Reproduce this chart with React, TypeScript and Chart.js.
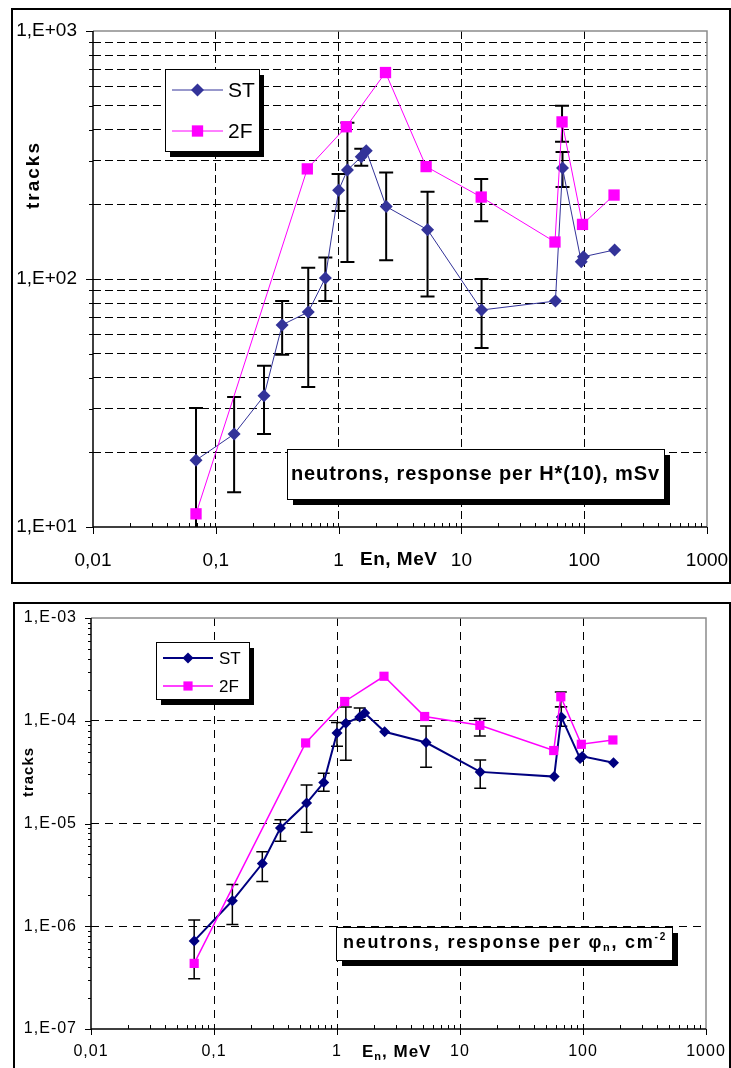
import React, { useEffect, useRef } from "react";
import { Chart, registerables } from "chart.js";

Chart.register(...registerables);

// ---------------- axes ----------------
const energyTicks = [0.01, 0.1, 1, 10, 100, 1000];
const energyTickLabels = ["0,01", "0,1", "1", "10", "100", "1000"];
const doseTicks = [10, 100, 1000];
const doseTickLabels = ["1,E+01", "1,E+02", "1,E+03"];
const fluenceTicks = [1e-7, 1e-6, 1e-5, 1e-4, 1e-3];
const fluenceTickLabels = ["1,E-07", "1,E-06", "1,E-05", "1,E-04", "1,E-03"];

const seriesNames = ["ST", "2F"];

// ---------------- energies (MeV) ----------------
const stEnergy = [0.069, 0.141, 0.247, 0.347, 0.566, 0.78, 1.0, 1.18, 1.53, 1.68, 2.44, 5.3, 14.6, 58.3, 66.6, 94.6, 98.6, 177];
const twoFEnergy = [0.069, 0.556, 1.155, 2.41, 5.16, 14.5, 57.8, 66.0, 96.9, 175];

// ---------------- response per H*(10) ----------------
const stDose = [18.6, 23.7, 33.8, 65.3, 73.6, 101, 228, 275, 311, 329, 196, 158, 75, 81.5, 280, 117.5, 123, 131];
const stDoseLow = [9, 13.8, 23.7, 49.5, 36.7, 81.5, 188, 117, 286, null, 119, 85, 52.7, null, 235, null, null, null];
const stDoseHigh = [30.2, 33.4, 44.7, 81.5, 111, 122, 265, 427, 335, null, 269, 225, 100, null, 325, null, null, null];
const twoFDose = [11.3, 278, 411, 680, 284, 214, 141, 430, 166, 218];
const twoFDoseLow = [null, null, null, null, null, 171, null, 358, null, null];
const twoFDoseHigh = [null, null, null, null, null, 253, null, 500, null, null];

// ---------------- response per fluence ----------------
const stFluence = [7.2e-7, 1.77e-6, 4.08e-6, 9.06e-6, 1.58e-5, 2.5e-5, 7.6e-5, 9.46e-5, 1.09e-4, 1.19e-4, 7.8e-5, 6.14e-5, 3.18e-5, 2.86e-5, 1.09e-4, 4.3e-5, 4.5e-5, 3.9e-5];
const stFluenceLow = [3.08e-7, 1.04e-6, 2.73e-6, 6.73e-6, 8.2e-6, 2.06e-5, 5.65e-5, 4.13e-5, 1.02e-4, null, null, 3.53e-5, 2.2e-5, null, 8.85e-5, null, null, null];
const stFluenceHigh = [1.15e-6, 2.55e-6, 5.3e-6, 1.09e-5, 2.37e-5, 3.08e-5, 9.6e-5, 1.36e-4, 1.33e-4, null, null, 8.9e-5, 4.16e-5, null, 1.37e-4, null, null, null];
const twoFFluence = [4.35e-7, 6.08e-5, 1.54e-4, 2.71e-4, 1.1e-4, 9.03e-5, 5.13e-5, 1.71e-4, 5.9e-5, 6.5e-5];
const twoFFluenceLow = [null, null, null, null, null, 7.1e-5, null, 1.36e-4, null, null];
const twoFFluenceHigh = [null, null, null, null, null, 1.05e-4, null, 1.9e-4, null, null];

const FAM = "'Liberation Sans', Arial, sans-serif";

const topSpec = {
  frame: { left: 11, top: 8, width: 720, height: 576 },
  area: { left: 80, top: 21, right: 694, bottom: 517 },
  yMin: 10, yMax: 1000, yMajors: doseTicks, yLabels: doseTickLabels, yMinorGrid: true,
  st: { x: stEnergy, y: stDose }, f2: { x: twoFEnergy, y: twoFDose },
  errors: [
    { x: stEnergy, lo: stDoseLow, hi: stDoseHigh },
    { x: twoFEnergy, lo: twoFDoseLow, hi: twoFDoseHigh },
  ],
  stColor: "#333399", f2Color: "#ff00ff", stWidth: 1, f2Width: 1, diamondR: 6.5, squareR: 8,
  tickFont: 19, tickSpacing: 0, xPad: 22, yPad: 16, dash: [8, 4],
  majorTick: 7, xMinorTick: 4, yMinorTick: 4, axisWidth: 1.5, errWidth: 2, cap: 7,
  legend: { x: 152, y: 59, w: 94, h: 82, sx: 5, sy: 6, lx0: 159, lx1: 210, rows: [80, 121], tx: 215, font: `21px ${FAM}` },
  annotation: { x: 274, y: 439, w: 377, h: 50, shadow: 6, tx: 278, tw: 369, ty: 464,
    parts: [{ text: "neutrons, response per H*(10), mSv", font: `bold 20px ${FAM}`, dy: 0 }] },
  yTitle: { text: "tracks", x: 21, y: 165, font: `bold 19px ${FAM}`, spacing: 2 },
  xTitle: { x: 347, y: 550, spacing: 0.5, parts: [{ text: "En, MeV", font: `bold 19px ${FAM}`, dy: 0 }] },
};

const bottomSpec = {
  frame: { left: 13, top: 602, width: 718, height: 470 },
  area: { left: 76, top: 14, right: 691, bottom: 425 },
  yMin: 1e-7, yMax: 1e-3, yMajors: fluenceTicks, yLabels: fluenceTickLabels, yMinorGrid: false,
  st: { x: stEnergy, y: stFluence }, f2: { x: twoFEnergy, y: twoFFluence },
  errors: [
    { x: stEnergy, lo: stFluenceLow, hi: stFluenceHigh },
    { x: twoFEnergy, lo: twoFFluenceLow, hi: twoFFluenceHigh },
  ],
  stColor: "#000080", f2Color: "#ff00ff", stWidth: 2, f2Width: 1.5, diamondR: 5.5, squareR: 6.5,
  tickFont: 16, tickSpacing: 1, xPad: 13, yPad: 14, dash: [8, 6],
  majorTick: 6, xMinorTick: 4, yMinorTick: 3, axisWidth: 1.5, errWidth: 1.5, cap: 6,
  legend: { x: 141, y: 38, w: 93, h: 57, sx: 5, sy: 6, lx0: 148, lx1: 198, rows: [54, 82], tx: 204, font: `17px ${FAM}` },
  annotation: { x: 321, y: 323, w: 336, h: 33, shadow: 6, tx: 328, tw: 324, ty: 339,
    parts: [
      { text: "neutrons, response per ", font: `bold 18px ${FAM}`, dy: 0 },
      { text: "φ", font: `bold 18px ${FAM}`, dy: 0 },
      { text: "n", font: `bold 11px ${FAM}`, dy: 5 },
      { text: ", cm", font: `bold 18px ${FAM}`, dy: 0 },
      { text: "-2", font: `bold 10px ${FAM}`, dy: -6 },
    ] },
  yTitle: { text: "tracks", x: 14, y: 168, font: `bold 15px ${FAM}`, spacing: 1 },
  xTitle: { x: 347, y: 448, spacing: 1, parts: [
    { text: "E", font: `bold 17px ${FAM}`, dy: 0 },
    { text: "n", font: `bold 11px ${FAM}`, dy: 5 },
    { text: ", MeV", font: `bold 17px ${FAM}`, dy: 0 },
  ] },
};

function logTicks(majors: number[]) {
  const out: any[] = [];
  for (let i = 0; i < majors.length; i++) {
    out.push({ value: majors[i], major: true });
    if (i < majors.length - 1) {
      for (let d = 2; d <= 9; d++) out.push({ value: majors[i] * d, major: false });
    }
  }
  return out;
}

function labelFor(value: number, majors: number[], labels: string[]) {
  const k = majors.findIndex((m) => Math.abs(Math.log10(m) - Math.log10(value)) < 1e-6);
  return k >= 0 ? labels[k] : "";
}

function isEdge(value: number, min: number, max: number) {
  return Math.abs(Math.log10(value) - Math.log10(min)) < 1e-6 || Math.abs(Math.log10(value) - Math.log10(max)) < 1e-6;
}

function setSpacing(ctx: any, px: number) {
  ctx.letterSpacing = px + "px";
}

function partsWidth(ctx: any, parts: any[], spacing: number) {
  let w = 0;
  for (const p of parts) {
    ctx.font = p.font;
    setSpacing(ctx, spacing);
    w += ctx.measureText(p.text).width;
  }
  return w;
}

function drawParts(ctx: any, parts: any[], x: number, y: number, spacing: number) {
  let cx = x;
  ctx.textAlign = "left";
  ctx.textBaseline = "middle";
  for (const p of parts) {
    ctx.font = p.font;
    setSpacing(ctx, spacing);
    ctx.fillText(p.text, cx, y + (p.dy || 0));
    cx += ctx.measureText(p.text).width;
  }
}

function drawMarker(ctx: any, style: string, x: number, y: number, r: number, color: string) {
  ctx.fillStyle = color;
  ctx.beginPath();
  if (style === "rectRot") {
    ctx.moveTo(x - r, y);
    ctx.lineTo(x, y - r);
    ctx.lineTo(x + r, y);
    ctx.lineTo(x, y + r);
    ctx.closePath();
  } else {
    const h = r * Math.SQRT1_2;
    ctx.rect(x - h, y - h, 2 * h, 2 * h);
  }
  ctx.fill();
}

function makeDecor(spec: any) {
  return {
    id: "decor",
    beforeDraw(chart: any) {
      const ctx = chart.ctx;
      ctx.save();
      ctx.fillStyle = "#fff";
      ctx.fillRect(0, 0, chart.width, chart.height);
      ctx.restore();
      setSpacing(ctx, spec.tickSpacing);
    },
    beforeDatasetsDraw(chart: any) {
      const ctx = chart.ctx;
      const a = chart.chartArea;
      const xs = chart.scales.x;
      const ys = chart.scales.y;
      ctx.save();
      setSpacing(ctx, 0);
      ctx.setLineDash([]);
      ctx.strokeStyle = "#8c8c8c";
      ctx.lineWidth = 1.5;
      ctx.beginPath();
      ctx.moveTo(a.left, a.top);
      ctx.lineTo(a.right, a.top);
      ctx.lineTo(a.right, a.bottom);
      ctx.stroke();

      ctx.strokeStyle = "#000";
      ctx.lineWidth = spec.axisWidth;
      ctx.beginPath();
      ctx.moveTo(a.left, a.top);
      ctx.lineTo(a.left, a.bottom);
      ctx.lineTo(a.right, a.bottom);
      ctx.stroke();

      ctx.lineWidth = 1;
      ctx.beginPath();
      for (const t of xs.ticks) {
        const px = Math.round(xs.getPixelForValue(t.value)) + 0.5;
        if (t.major) {
          ctx.moveTo(px, a.bottom);
          ctx.lineTo(px, a.bottom + spec.majorTick);
        } else {
          ctx.moveTo(px, a.bottom);
          ctx.lineTo(px, a.bottom - spec.xMinorTick);
        }
      }
      for (const t of ys.ticks) {
        const py = Math.round(ys.getPixelForValue(t.value)) + 0.5;
        ctx.moveTo(a.left - (t.major ? spec.majorTick : spec.yMinorTick), py);
        ctx.lineTo(a.left, py);
      }
      ctx.stroke();

      ctx.beginPath();
      ctx.rect(a.left, a.top, a.right - a.left, a.bottom - a.top);
      ctx.clip();
      ctx.strokeStyle = "#000";
      ctx.lineWidth = spec.errWidth;
      ctx.beginPath();
      for (const e of spec.errors) {
        e.x.forEach((xv: number, i: number) => {
          const lo = e.lo[i];
          const hi = e.hi[i];
          if (lo == null || hi == null) return;
          const px = xs.getPixelForValue(xv);
          const pl = ys.getPixelForValue(lo);
          const ph = ys.getPixelForValue(hi);
          ctx.moveTo(px, pl);
          ctx.lineTo(px, ph);
          ctx.moveTo(px - spec.cap, pl);
          ctx.lineTo(px + spec.cap, pl);
          ctx.moveTo(px - spec.cap, ph);
          ctx.lineTo(px + spec.cap, ph);
        });
      }
      ctx.stroke();
      ctx.restore();
    },
    afterDraw(chart: any) {
      const ctx = chart.ctx;
      ctx.save();
      ctx.setLineDash([]);

      // legend
      const L = spec.legend;
      ctx.fillStyle = "#000";
      ctx.fillRect(L.x + L.sx, L.y + L.sy, L.w, L.h);
      ctx.fillStyle = "#fff";
      ctx.fillRect(L.x, L.y, L.w, L.h);
      ctx.strokeStyle = "#000";
      ctx.lineWidth = 1;
      ctx.strokeRect(L.x + 0.5, L.y + 0.5, L.w, L.h);
      const entries = [
        { name: seriesNames[0], color: spec.stColor, width: spec.stWidth, style: "rectRot", r: spec.diamondR },
        { name: seriesNames[1], color: spec.f2Color, width: spec.f2Width, style: "rect", r: spec.squareR },
      ];
      entries.forEach((en, i) => {
        const yy = L.rows[i];
        ctx.strokeStyle = en.color;
        ctx.lineWidth = en.width;
        ctx.beginPath();
        ctx.moveTo(L.lx0, yy);
        ctx.lineTo(L.lx1, yy);
        ctx.stroke();
        drawMarker(ctx, en.style, (L.lx0 + L.lx1) / 2, yy, en.r, en.color);
        ctx.fillStyle = "#000";
        ctx.font = L.font;
        setSpacing(ctx, 0);
        ctx.textAlign = "left";
        ctx.textBaseline = "middle";
        ctx.fillText(en.name, L.tx, yy + 1);
      });

      // annotation box
      const A = spec.annotation;
      ctx.fillStyle = "#000";
      ctx.fillRect(A.x + A.shadow, A.y + A.shadow, A.w, A.h);
      ctx.fillStyle = "#fff";
      ctx.fillRect(A.x, A.y, A.w, A.h);
      ctx.strokeStyle = "#000";
      ctx.lineWidth = 1;
      ctx.strokeRect(A.x + 0.5, A.y + 0.5, A.w, A.h);
      const nat = partsWidth(ctx, A.parts, 0);
      const nChars = A.parts.reduce((s: number, p: any) => s + p.text.length, 0);
      const sp = Math.max(0, (A.tw - nat) / nChars);
      ctx.fillStyle = "#000";
      drawParts(ctx, A.parts, A.tx, A.ty, sp);

      // x title
      const X = spec.xTitle;
      drawParts(ctx, X.parts, X.x, X.y, X.spacing);

      // y title
      const Y = spec.yTitle;
      ctx.save();
      ctx.translate(Y.x, Y.y);
      ctx.rotate(-Math.PI / 2);
      ctx.font = Y.font;
      setSpacing(ctx, Y.spacing);
      ctx.textAlign = "center";
      ctx.textBaseline = "middle";
      ctx.fillText(Y.text, 0, 0);
      ctx.restore();

      ctx.restore();
    },
  };
}

function zeroPad(s: any) {
  s.paddingLeft = 0;
  s.paddingRight = 0;
  s.paddingTop = 0;
  s.paddingBottom = 0;
}

function buildConfig(spec: any, W: number, H: number) {
  const font = { family: FAM, size: spec.tickFont };
  return {
    type: "line",
    data: {
      datasets: [
        {
          label: seriesNames[0],
          data: spec.st.x.map((x: number, i: number) => ({ x, y: spec.st.y[i] })),
          borderColor: spec.stColor,
          backgroundColor: spec.stColor,
          borderWidth: spec.stWidth,
          pointStyle: "rectRot",
          pointRadius: spec.diamondR,
          pointBorderWidth: 0,
          tension: 0,
          order: 2,
        },
        {
          label: seriesNames[1],
          data: spec.f2.x.map((x: number, i: number) => ({ x, y: spec.f2.y[i] })),
          borderColor: spec.f2Color,
          backgroundColor: spec.f2Color,
          borderWidth: spec.f2Width,
          pointStyle: "rect",
          pointRadius: spec.squareR,
          pointBorderWidth: 0,
          tension: 0,
          order: 1,
        },
      ],
    },
    options: {
      animation: false,
      responsive: false,
      events: [],
      layout: { autoPadding: false, padding: { top: spec.area.top, right: W - spec.area.right, left: 0, bottom: 0 } },
      plugins: { legend: { display: false }, tooltip: { enabled: false } },
      scales: {
        x: {
          type: "logarithmic",
          position: "bottom",
          min: energyTicks[0],
          max: energyTicks[energyTicks.length - 1],
          afterBuildTicks: (s: any) => {
            s.ticks = logTicks(energyTicks);
          },
          afterFit: (s: any) => {
            s.height = H - spec.area.bottom;
            zeroPad(s);
          },
          ticks: {
            autoSkip: false,
            maxRotation: 0,
            minRotation: 0,
            padding: spec.xPad,
            color: "#000",
            font,
            callback: (v: number) => labelFor(v, energyTicks, energyTickLabels),
          },
          grid: {
            drawTicks: false,
            lineWidth: 1,
            color: (c: any) => {
              const t = c.tick;
              if (!t || !t.major || isEdge(t.value, energyTicks[0], energyTicks[energyTicks.length - 1])) return "rgba(0,0,0,0)";
              return "#000";
            },
          },
          border: { display: false, dash: spec.dash },
        },
        y: {
          type: "logarithmic",
          position: "left",
          min: spec.yMin,
          max: spec.yMax,
          afterBuildTicks: (s: any) => {
            s.ticks = logTicks(spec.yMajors);
          },
          afterFit: (s: any) => {
            s.width = spec.area.left;
            zeroPad(s);
          },
          ticks: {
            autoSkip: false,
            padding: spec.yPad,
            color: "#000",
            font,
            callback: (v: number) => labelFor(v, spec.yMajors, spec.yLabels),
          },
          grid: {
            drawTicks: false,
            lineWidth: 1,
            color: (c: any) => {
              const t = c.tick;
              if (!t || isEdge(t.value, spec.yMin, spec.yMax)) return "rgba(0,0,0,0)";
              if (!t.major && !spec.yMinorGrid) return "rgba(0,0,0,0)";
              return "#000";
            },
          },
          border: { display: false, dash: spec.dash },
        },
      },
    },
    plugins: [makeDecor(spec)],
  };
}

function Panel({ spec }: { spec: any }) {
  const ref = useRef<HTMLCanvasElement>(null);
  const W = spec.frame.width - 4;
  const H = spec.frame.height - 4;
  useEffect(() => {
    const chart = new Chart(ref.current as HTMLCanvasElement, buildConfig(spec, W, H) as any);
    return () => chart.destroy();
  }, []);
  return (
    <div
      style={{
        position: "absolute",
        left: spec.frame.left,
        top: spec.frame.top,
        width: spec.frame.width,
        height: spec.frame.height,
        border: "2px solid #000",
        boxSizing: "border-box",
        background: "#fff",
      }}
    >
      <canvas ref={ref} width={W} height={H} style={{ display: "block", width: W, height: H }} />
    </div>
  );
}

export default function App() {
  return (
    <div
      style={{
        position: "absolute",
        left: 0,
        top: 0,
        width: 731,
        height: 1068,
        overflow: "hidden",
        background: "#fff",
      }}
    >
      <Panel spec={topSpec} />
      <Panel spec={bottomSpec} />
    </div>
  );
}
